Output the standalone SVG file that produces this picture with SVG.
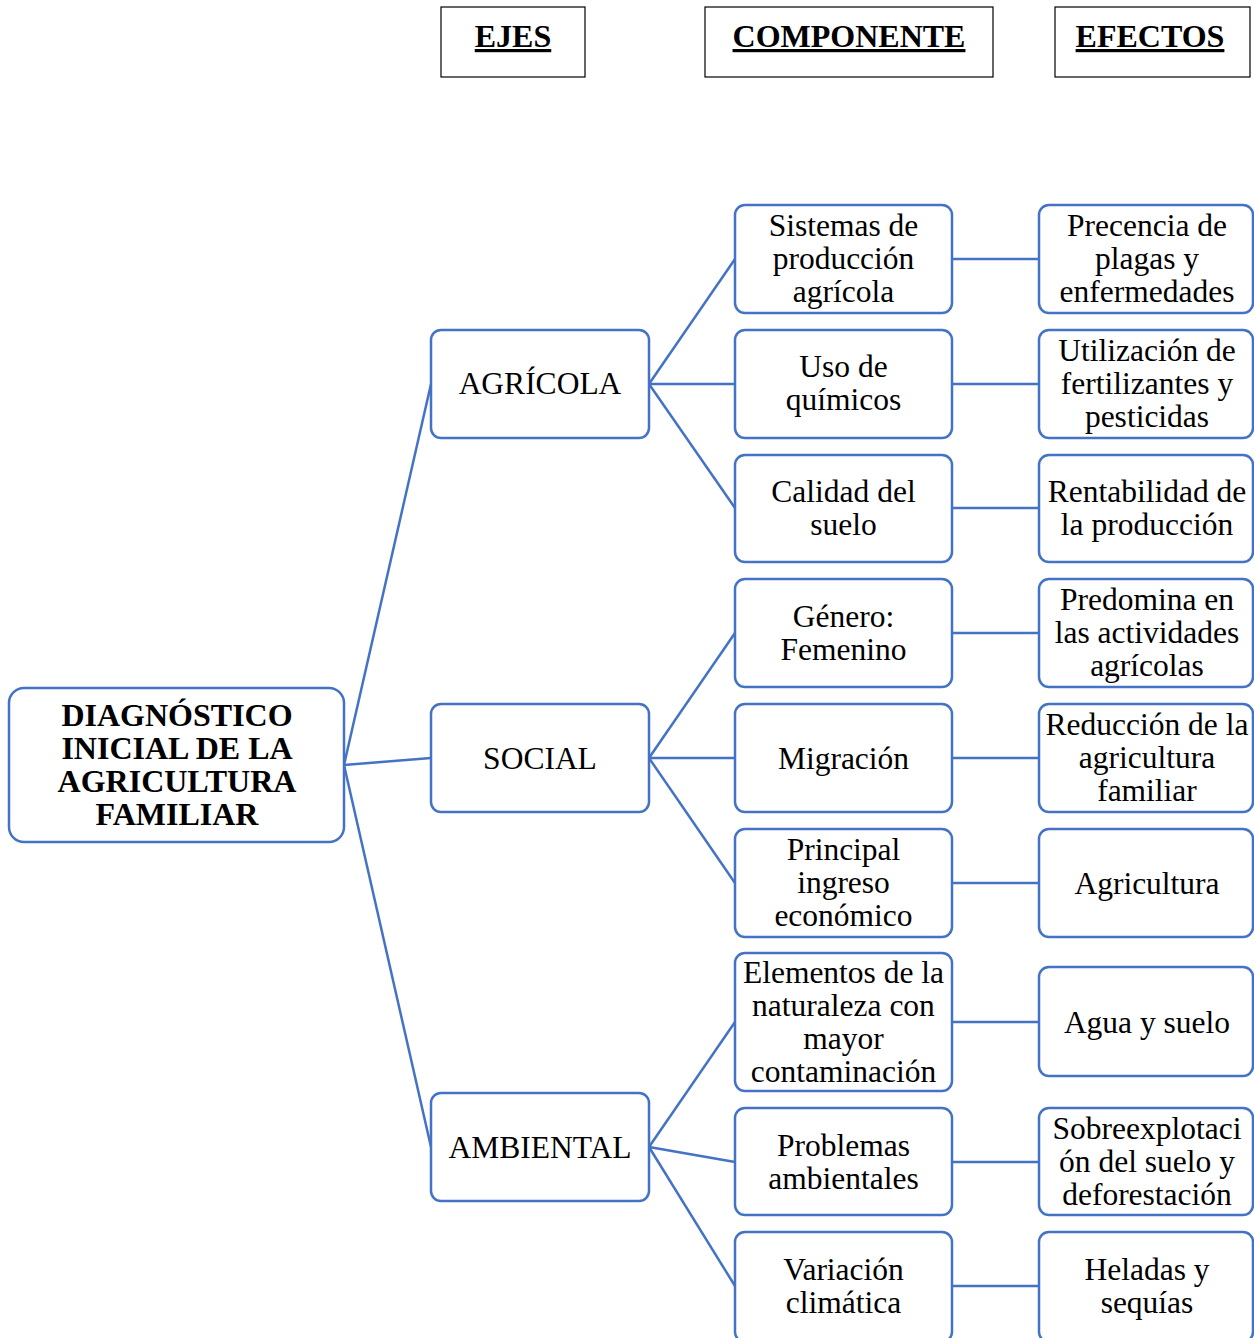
<svg xmlns="http://www.w3.org/2000/svg" width="1254" height="1338" viewBox="0 0 1254 1338">
<style>
.hdr{fill:#fff;stroke:#000;stroke-width:1.2}
.ht{font-family:"Liberation Serif","Times New Roman",serif;font-size:32px;font-weight:bold;text-decoration:underline;text-anchor:middle;fill:#000}
.box{fill:#fff;stroke:#4472C4;stroke-width:2.5}
.t{font-family:"Liberation Serif","Times New Roman",serif;font-size:31.5px;text-anchor:middle;fill:#000}
.tb{font-family:"Liberation Serif","Times New Roman",serif;font-size:32px;font-weight:bold;text-anchor:middle;fill:#000}
.c{stroke:#4472C4;stroke-width:2.5;fill:none}
</style>
<rect width="1254" height="1338" fill="#fff"/>
<g id="headers">
<g id="h-ejes"><rect class="hdr" x="441" y="7" width="144" height="70"/><text class="ht" x="513" y="47">EJES</text></g>
<g id="h-componente"><rect class="hdr" x="705" y="7" width="288" height="70"/><text class="ht" x="849" y="47">COMPONENTE</text></g>
<g id="h-efectos"><rect class="hdr" x="1055" y="7" width="195" height="70"/><text class="ht" x="1150" y="47">EFECTOS</text></g>
</g>
<g id="connectors">
<line class="c" x1="344" y1="765" x2="431" y2="384"/>
<line class="c" x1="344" y1="765" x2="431" y2="758"/>
<line class="c" x1="344" y1="765" x2="431" y2="1147"/>
<line class="c" x1="649" y1="384" x2="735" y2="259"/>
<line class="c" x1="649" y1="384" x2="735" y2="384"/>
<line class="c" x1="649" y1="384" x2="735" y2="508"/>
<line class="c" x1="649" y1="758" x2="735" y2="633"/>
<line class="c" x1="649" y1="758" x2="735" y2="758"/>
<line class="c" x1="649" y1="758" x2="735" y2="883"/>
<line class="c" x1="649" y1="1147" x2="735" y2="1022"/>
<line class="c" x1="649" y1="1147" x2="735" y2="1162"/>
<line class="c" x1="649" y1="1147" x2="735" y2="1286"/>
<line class="c" x1="952" y1="259" x2="1039" y2="259"/>
<line class="c" x1="952" y1="384" x2="1039" y2="384"/>
<line class="c" x1="952" y1="508" x2="1039" y2="508"/>
<line class="c" x1="952" y1="633" x2="1039" y2="633"/>
<line class="c" x1="952" y1="758" x2="1039" y2="758"/>
<line class="c" x1="952" y1="883" x2="1039" y2="883"/>
<line class="c" x1="952" y1="1022" x2="1039" y2="1022"/>
<line class="c" x1="952" y1="1162" x2="1039" y2="1162"/>
<line class="c" x1="952" y1="1286" x2="1039" y2="1286"/>
</g>
<g id="main"><rect class="box" x="9" y="688" width="335" height="154" rx="15"/>
<text class="tb" x="177"><tspan x="177" y="726">DIAGNÓSTICO</tspan><tspan x="177" y="759">INICIAL DE LA</tspan><tspan x="177" y="792">AGRICULTURA</tspan><tspan x="177" y="825">FAMILIAR</tspan></text></g>
<g id="eje-agricola"><rect class="box" x="431" y="330" width="218" height="108" rx="10"/><text class="t" x="540" y="394">AGRÍCOLA</text></g>
<g id="eje-social"><rect class="box" x="431" y="704" width="218" height="108" rx="10"/><text class="t" x="540" y="769">SOCIAL</text></g>
<g id="eje-ambiental"><rect class="box" x="431" y="1093" width="218" height="108" rx="10"/><text class="t" x="540" y="1158">AMBIENTAL</text></g>
<g id="comp-1"><rect class="box" x="735" y="205" width="217" height="108" rx="10"/><text class="t"><tspan x="843.5" y="236">Sistemas de</tspan><tspan x="843.5" y="269">producción</tspan><tspan x="843.5" y="302">agrícola</tspan></text></g>
<g id="comp-2"><rect class="box" x="735" y="330" width="217" height="108" rx="10"/><text class="t"><tspan x="843.5" y="377">Uso de</tspan><tspan x="843.5" y="410">químicos</tspan></text></g>
<g id="comp-3"><rect class="box" x="735" y="455" width="217" height="107" rx="10"/><text class="t"><tspan x="843.5" y="502">Calidad del</tspan><tspan x="843.5" y="535">suelo</tspan></text></g>
<g id="comp-4"><rect class="box" x="735" y="579" width="217" height="108" rx="10"/><text class="t"><tspan x="843.5" y="627">Género:</tspan><tspan x="843.5" y="660">Femenino</tspan></text></g>
<g id="comp-5"><rect class="box" x="735" y="704" width="217" height="108" rx="10"/><text class="t" x="843.5" y="769">Migración</text></g>
<g id="comp-6"><rect class="box" x="735" y="829" width="217" height="108" rx="10"/><text class="t"><tspan x="843.5" y="860">Principal</tspan><tspan x="843.5" y="893">ingreso</tspan><tspan x="843.5" y="926">económico</tspan></text></g>
<g id="comp-7"><rect class="box" x="735" y="953" width="217" height="138" rx="10"/><text class="t"><tspan x="843.5" y="983">Elementos de la</tspan><tspan x="843.5" y="1016">naturaleza con</tspan><tspan x="843.5" y="1049">mayor</tspan><tspan x="843.5" y="1082">contaminación</tspan></text></g>
<g id="comp-8"><rect class="box" x="735" y="1108" width="217" height="107" rx="10"/><text class="t"><tspan x="843.5" y="1156">Problemas</tspan><tspan x="843.5" y="1189">ambientales</tspan></text></g>
<g id="comp-9"><rect class="box" x="735" y="1232" width="217" height="110" rx="10"/><text class="t"><tspan x="843.5" y="1280">Variación</tspan><tspan x="843.5" y="1313">climática</tspan></text></g>
<g id="efe-1"><rect class="box" x="1039" y="205" width="214" height="108" rx="10"/><text class="t"><tspan x="1147" y="236">Precencia de</tspan><tspan x="1147" y="269">plagas y</tspan><tspan x="1147" y="302">enfermedades</tspan></text></g>
<g id="efe-2"><rect class="box" x="1039" y="330" width="214" height="108" rx="10"/><text class="t"><tspan x="1147" y="361">Utilización de</tspan><tspan x="1147" y="394">fertilizantes y</tspan><tspan x="1147" y="427">pesticidas</tspan></text></g>
<g id="efe-3"><rect class="box" x="1039" y="455" width="214" height="107" rx="10"/><text class="t"><tspan x="1147" y="502">Rentabilidad de</tspan><tspan x="1147" y="535">la producción</tspan></text></g>
<g id="efe-4"><rect class="box" x="1039" y="579" width="214" height="108" rx="10"/><text class="t"><tspan x="1147" y="610">Predomina en</tspan><tspan x="1147" y="643">las actividades</tspan><tspan x="1147" y="676">agrícolas</tspan></text></g>
<g id="efe-5"><rect class="box" x="1039" y="704" width="214" height="108" rx="10"/><text class="t"><tspan x="1147" y="735">Reducción de la</tspan><tspan x="1147" y="768">agricultura</tspan><tspan x="1147" y="801">familiar</tspan></text></g>
<g id="efe-6"><rect class="box" x="1039" y="829" width="214" height="108" rx="10"/><text class="t" x="1147" y="894">Agricultura</text></g>
<g id="efe-7"><rect class="box" x="1039" y="967" width="214" height="109" rx="10"/><text class="t" x="1147" y="1033">Agua y suelo</text></g>
<g id="efe-8"><rect class="box" x="1039" y="1108" width="214" height="107" rx="10"/><text class="t"><tspan x="1147" y="1139">Sobreexplotaci</tspan><tspan x="1147" y="1172">ón del suelo y</tspan><tspan x="1147" y="1205">deforestación</tspan></text></g>
<g id="efe-9"><rect class="box" x="1039" y="1232" width="214" height="110" rx="10"/><text class="t"><tspan x="1147" y="1280">Heladas y</tspan><tspan x="1147" y="1313">sequías</tspan></text></g>
</svg>
